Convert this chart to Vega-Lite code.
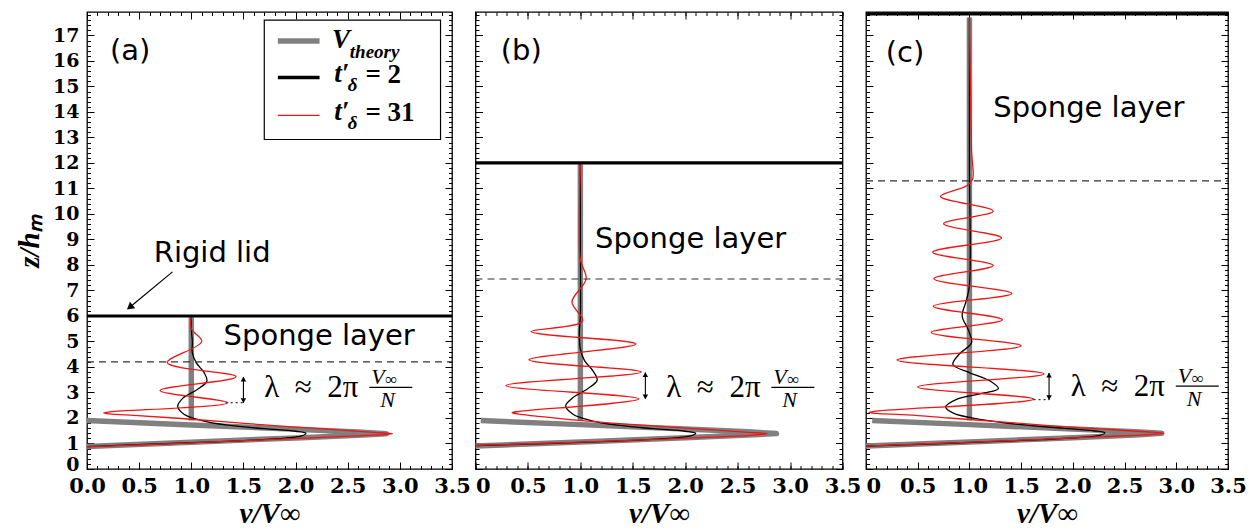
{
  "$schema": "https://vega.github.io/schema/vega-lite/v6.json",
  "background": "white",
  "padding": {"left": 14, "top": 10, "right": 5, "bottom": 0},
  "bounds": "flush",
  "spacing": 23.5,
  "config": {
    "view": {"stroke": "black", "strokeWidth": 1.3},
    "axis": {
      "tickColor": "black", "tickWidth": 1,
      "labelFont": "DejaVu Serif", "labelFontWeight": "bold", "labelFontSize": 21, "labelColor": "black",
      "titleFont": "Liberation Serif", "titleFontWeight": "bold", "titleFontStyle": "italic", "titleFontSize": 29, "titleColor": "black"
    }
  },
  "datasets": {
    "curves": [
      {"p":"a","s":"theory","g":"nose","i":1,"v":0,"z":0.88},
      {"p":"a","s":"theory","g":"nose","i":2,"v":1.0,"z":1.05},
      {"p":"a","s":"theory","g":"nose","i":3,"v":2.0,"z":1.22},
      {"p":"a","s":"theory","g":"nose","i":4,"v":2.6,"z":1.32},
      {"p":"a","s":"theory","g":"nose","i":5,"v":2.87,"z":1.385},
      {"p":"a","s":"theory","g":"nose","i":6,"v":2.6,"z":1.45},
      {"p":"a","s":"theory","g":"nose","i":7,"v":2.0,"z":1.56},
      {"p":"a","s":"theory","g":"nose","i":8,"v":1.0,"z":1.73},
      {"p":"a","s":"theory","g":"nose","i":9,"v":0.0,"z":1.9},
      {"p":"a","s":"theory","g":"bar","i":10,"v":1.0,"z":1.9},
      {"p":"a","s":"theory","g":"bar","i":11,"v":1.0,"z":5.95},
      {"p":"b","s":"theory","g":"nose","i":1,"v":0,"z":0.9},
      {"p":"b","s":"theory","g":"nose","i":2,"v":1.0,"z":1.06},
      {"p":"b","s":"theory","g":"nose","i":3,"v":2.0,"z":1.23},
      {"p":"b","s":"theory","g":"nose","i":4,"v":2.6,"z":1.33},
      {"p":"b","s":"theory","g":"nose","i":5,"v":2.87,"z":1.39},
      {"p":"b","s":"theory","g":"nose","i":6,"v":2.6,"z":1.46},
      {"p":"b","s":"theory","g":"nose","i":7,"v":2.0,"z":1.57},
      {"p":"b","s":"theory","g":"nose","i":8,"v":1.0,"z":1.74},
      {"p":"b","s":"theory","g":"nose","i":9,"v":0.05,"z":1.9},
      {"p":"b","s":"theory","g":"bar","i":10,"v":1.0,"z":1.9},
      {"p":"b","s":"theory","g":"bar","i":11,"v":1.0,"z":11.95},
      {"p":"c","s":"theory","g":"nose","i":1,"v":0,"z":0.9},
      {"p":"c","s":"theory","g":"nose","i":2,"v":1.0,"z":1.06},
      {"p":"c","s":"theory","g":"nose","i":3,"v":2.0,"z":1.23},
      {"p":"c","s":"theory","g":"nose","i":4,"v":2.6,"z":1.33},
      {"p":"c","s":"theory","g":"nose","i":5,"v":2.86,"z":1.4},
      {"p":"c","s":"theory","g":"nose","i":6,"v":2.6,"z":1.46},
      {"p":"c","s":"theory","g":"nose","i":7,"v":2.0,"z":1.57},
      {"p":"c","s":"theory","g":"nose","i":8,"v":1.0,"z":1.74},
      {"p":"c","s":"theory","g":"nose","i":9,"v":0.06,"z":1.9},
      {"p":"c","s":"theory","g":"bar","i":10,"v":1.0,"z":1.9},
      {"p":"c","s":"theory","g":"bar","i":11,"v":1.0,"z":17.7},

      {"p":"a","s":"t2","i":1,"v":0,"z":0.88},
      {"p":"a","s":"t2","i":2,"v":0.6,"z":0.97},
      {"p":"a","s":"t2","i":3,"v":1.2,"z":1.06},
      {"p":"a","s":"t2","i":4,"v":1.6,"z":1.13},
      {"p":"a","s":"t2","i":5,"v":1.9,"z":1.21},
      {"p":"a","s":"t2","i":6,"v":2.06,"z":1.3},
      {"p":"a","s":"t2","i":7,"v":2.1,"z":1.4},
      {"p":"a","s":"t2","i":8,"v":2.0,"z":1.48},
      {"p":"a","s":"t2","i":9,"v":1.7,"z":1.58},
      {"p":"a","s":"t2","i":10,"v":1.35,"z":1.72},
      {"p":"a","s":"t2","i":11,"v":1.1,"z":1.9},
      {"p":"a","s":"t2","i":12,"v":0.93,"z":2.15},
      {"p":"a","s":"t2","i":13,"v":0.87,"z":2.45},
      {"p":"a","s":"t2","i":14,"v":0.92,"z":2.78},
      {"p":"a","s":"t2","i":15,"v":1.05,"z":3.1},
      {"p":"a","s":"t2","i":16,"v":1.15,"z":3.45},
      {"p":"a","s":"t2","i":17,"v":1.12,"z":3.8},
      {"p":"a","s":"t2","i":18,"v":1.05,"z":4.15},
      {"p":"a","s":"t2","i":19,"v":1.01,"z":4.55},
      {"p":"a","s":"t2","i":20,"v":1.01,"z":5.0},
      {"p":"a","s":"t2","i":21,"v":1.0,"z":5.5},
      {"p":"a","s":"t2","i":22,"v":1.0,"z":5.95},

      {"p":"b","s":"t2","i":1,"v":0,"z":0.92},
      {"p":"b","s":"t2","i":2,"v":0.6,"z":0.99},
      {"p":"b","s":"t2","i":3,"v":1.2,"z":1.07},
      {"p":"b","s":"t2","i":4,"v":1.6,"z":1.14},
      {"p":"b","s":"t2","i":5,"v":1.9,"z":1.22},
      {"p":"b","s":"t2","i":6,"v":2.06,"z":1.31},
      {"p":"b","s":"t2","i":7,"v":2.1,"z":1.4},
      {"p":"b","s":"t2","i":8,"v":2.0,"z":1.48},
      {"p":"b","s":"t2","i":9,"v":1.7,"z":1.58},
      {"p":"b","s":"t2","i":10,"v":1.35,"z":1.72},
      {"p":"b","s":"t2","i":11,"v":1.1,"z":1.9},
      {"p":"b","s":"t2","i":12,"v":0.93,"z":2.15},
      {"p":"b","s":"t2","i":13,"v":0.86,"z":2.47},
      {"p":"b","s":"t2","i":14,"v":0.93,"z":2.8},
      {"p":"b","s":"t2","i":15,"v":1.07,"z":3.15},
      {"p":"b","s":"t2","i":16,"v":1.16,"z":3.48},
      {"p":"b","s":"t2","i":17,"v":1.12,"z":3.85},
      {"p":"b","s":"t2","i":18,"v":1.04,"z":4.25},
      {"p":"b","s":"t2","i":19,"v":1.0,"z":4.7},
      {"p":"b","s":"t2","i":20,"v":0.99,"z":5.3},
      {"p":"b","s":"t2","i":21,"v":1.0,"z":6.0},
      {"p":"b","s":"t2","i":22,"v":1.0,"z":9.0},
      {"p":"b","s":"t2","i":23,"v":1.0,"z":11.95},

      {"p":"c","s":"t2","i":1,"v":0,"z":0.9},
      {"p":"c","s":"t2","i":2,"v":0.6,"z":0.98},
      {"p":"c","s":"t2","i":3,"v":1.2,"z":1.07},
      {"p":"c","s":"t2","i":4,"v":1.7,"z":1.15},
      {"p":"c","s":"t2","i":5,"v":2.05,"z":1.23},
      {"p":"c","s":"t2","i":6,"v":2.26,"z":1.32},
      {"p":"c","s":"t2","i":7,"v":2.31,"z":1.42},
      {"p":"c","s":"t2","i":8,"v":2.2,"z":1.5},
      {"p":"c","s":"t2","i":9,"v":1.9,"z":1.6},
      {"p":"c","s":"t2","i":10,"v":1.5,"z":1.74},
      {"p":"c","s":"t2","i":11,"v":1.1,"z":1.95},
      {"p":"c","s":"t2","i":12,"v":0.85,"z":2.18},
      {"p":"c","s":"t2","i":13,"v":0.77,"z":2.43},
      {"p":"c","s":"t2","i":14,"v":0.87,"z":2.72},
      {"p":"c","s":"t2","i":15,"v":1.1,"z":2.95},
      {"p":"c","s":"t2","i":16,"v":1.28,"z":3.15},
      {"p":"c","s":"t2","i":17,"v":1.2,"z":3.45},
      {"p":"c","s":"t2","i":18,"v":1.0,"z":3.78},
      {"p":"c","s":"t2","i":19,"v":0.84,"z":4.1},
      {"p":"c","s":"t2","i":20,"v":0.9,"z":4.5},
      {"p":"c","s":"t2","i":21,"v":1.02,"z":4.95},
      {"p":"c","s":"t2","i":22,"v":0.99,"z":5.45},
      {"p":"c","s":"t2","i":23,"v":0.93,"z":6.0},
      {"p":"c","s":"t2","i":24,"v":0.97,"z":6.6},
      {"p":"c","s":"t2","i":25,"v":1.0,"z":7.2},
      {"p":"c","s":"t2","i":26,"v":1.0,"z":12.0},
      {"p":"c","s":"t2","i":27,"v":1.0,"z":17.7},

      {"p":"a","s":"t31","i":1,"v":0,"z":0.87},
      {"p":"a","s":"t31","i":2,"v":0.6,"z":0.96},
      {"p":"a","s":"t31","i":3,"v":1.2,"z":1.06},
      {"p":"a","s":"t31","i":4,"v":1.8,"z":1.16},
      {"p":"a","s":"t31","i":5,"v":2.3,"z":1.25},
      {"p":"a","s":"t31","i":6,"v":2.7,"z":1.32},
      {"p":"a","s":"t31","i":7,"v":2.93,"z":1.38},
      {"p":"a","s":"t31","i":8,"v":2.75,"z":1.44},
      {"p":"a","s":"t31","i":9,"v":2.3,"z":1.56},
      {"p":"a","s":"t31","i":10,"v":1.8,"z":1.7},
      {"p":"a","s":"t31","i":11,"v":1.3,"z":1.86},
      {"p":"a","s":"t31","i":12,"v":0.8,"z":2.01},
      {"p":"a","s":"t31","i":13,"v":0.45,"z":2.1},
      {"p":"a","s":"t31","i":14,"v":0.22,"z":2.16},
      {"p":"a","s":"t31","i":15,"v":0.16,"z":2.2},
      {"p":"a","s":"t31","i":16,"v":0.22,"z":2.24},
      {"p":"a","s":"t31","i":17,"v":1.35,"z":2.6},
      {"p":"a","s":"t31","i":18,"v":0.7,"z":3.08},
      {"p":"a","s":"t31","i":19,"v":1.43,"z":3.62},
      {"p":"a","s":"t31","i":20,"v":0.77,"z":4.17},
      {"p":"a","s":"t31","i":21,"v":1.1,"z":5.0},
      {"p":"a","s":"t31","i":22,"v":1.0,"z":5.5},
      {"p":"a","s":"t31","i":23,"v":1.0,"z":5.95},

      {"p":"b","s":"t31","i":1,"v":0,"z":0.93},
      {"p":"b","s":"t31","i":2,"v":0.6,"z":1.0},
      {"p":"b","s":"t31","i":3,"v":1.2,"z":1.08},
      {"p":"b","s":"t31","i":4,"v":1.8,"z":1.17},
      {"p":"b","s":"t31","i":5,"v":2.3,"z":1.26},
      {"p":"b","s":"t31","i":6,"v":2.62,"z":1.32},
      {"p":"b","s":"t31","i":7,"v":2.78,"z":1.38},
      {"p":"b","s":"t31","i":8,"v":2.6,"z":1.44},
      {"p":"b","s":"t31","i":9,"v":2.2,"z":1.55},
      {"p":"b","s":"t31","i":10,"v":1.8,"z":1.66},
      {"p":"b","s":"t31","i":11,"v":1.3,"z":1.8},
      {"p":"b","s":"t31","i":12,"v":0.9,"z":1.94},
      {"p":"b","s":"t31","i":13,"v":0.6,"z":2.06},
      {"p":"b","s":"t31","i":14,"v":0.42,"z":2.15},
      {"p":"b","s":"t31","i":15,"v":0.35,"z":2.21},
      {"p":"b","s":"t31","i":16,"v":0.42,"z":2.26},
      {"p":"b","s":"t31","i":17,"v":1.56,"z":2.75},
      {"p":"b","s":"t31","i":18,"v":0.29,"z":3.27},
      {"p":"b","s":"t31","i":19,"v":1.58,"z":3.8},
      {"p":"b","s":"t31","i":20,"v":0.51,"z":4.28},
      {"p":"b","s":"t31","i":21,"v":1.53,"z":4.9},
      {"p":"b","s":"t31","i":22,"v":0.53,"z":5.39},
      {"p":"b","s":"t31","i":23,"v":1.02,"z":5.8},
      {"p":"b","s":"t31","i":24,"v":0.92,"z":6.55},
      {"p":"b","s":"t31","i":25,"v":1.055,"z":7.45},
      {"p":"b","s":"t31","i":26,"v":1.0,"z":8.2},
      {"p":"b","s":"t31","i":27,"v":0.99,"z":9.5},
      {"p":"b","s":"t31","i":28,"v":1.0,"z":11.95},

      {"p":"c","s":"t31","i":1,"v":0,"z":0.9},
      {"p":"c","s":"t31","i":2,"v":0.6,"z":0.99},
      {"p":"c","s":"t31","i":3,"v":1.2,"z":1.08},
      {"p":"c","s":"t31","i":4,"v":1.8,"z":1.18},
      {"p":"c","s":"t31","i":5,"v":2.3,"z":1.27},
      {"p":"c","s":"t31","i":6,"v":2.7,"z":1.34},
      {"p":"c","s":"t31","i":7,"v":2.88,"z":1.4},
      {"p":"c","s":"t31","i":8,"v":2.7,"z":1.46},
      {"p":"c","s":"t31","i":9,"v":2.3,"z":1.56},
      {"p":"c","s":"t31","i":10,"v":1.8,"z":1.69},
      {"p":"c","s":"t31","i":11,"v":1.3,"z":1.85},
      {"p":"c","s":"t31","i":12,"v":0.8,"z":2.0},
      {"p":"c","s":"t31","i":13,"v":0.4,"z":2.12},
      {"p":"c","s":"t31","i":14,"v":0.1,"z":2.18},
      {"p":"c","s":"t31","i":15,"v":0.03,"z":2.22},
      {"p":"c","s":"t31","i":16,"v":0.1,"z":2.27},
      {"p":"c","s":"t31","i":17,"v":1.62,"z":2.74},
      {"p":"c","s":"t31","i":18,"v":0.5,"z":3.22},
      {"p":"c","s":"t31","i":19,"v":1.72,"z":3.73},
      {"p":"c","s":"t31","i":20,"v":0.3,"z":4.27},
      {"p":"c","s":"t31","i":21,"v":1.5,"z":4.83},
      {"p":"c","s":"t31","i":22,"v":0.63,"z":5.35},
      {"p":"c","s":"t31","i":23,"v":1.32,"z":5.85},
      {"p":"c","s":"t31","i":24,"v":0.65,"z":6.38},
      {"p":"c","s":"t31","i":25,"v":1.41,"z":6.88},
      {"p":"c","s":"t31","i":26,"v":0.655,"z":7.46},
      {"p":"c","s":"t31","i":27,"v":1.23,"z":7.98},
      {"p":"c","s":"t31","i":28,"v":0.645,"z":8.5},
      {"p":"c","s":"t31","i":29,"v":1.31,"z":9.06},
      {"p":"c","s":"t31","i":30,"v":0.75,"z":9.62},
      {"p":"c","s":"t31","i":31,"v":1.23,"z":10.11},
      {"p":"c","s":"t31","i":32,"v":0.72,"z":10.69},
      {"p":"c","s":"t31","i":33,"v":0.97,"z":11.1},
      {"p":"c","s":"t31","i":34,"v":1.03,"z":11.35},
      {"p":"c","s":"t31","i":35,"v":1.02,"z":12.5},
      {"p":"c","s":"t31","i":36,"v":1.0,"z":17.7}
    ],
    "levels": [
      {"p":"a","k":"lid","v":0,"v2":3.5,"z":6},
      {"p":"a","k":"sponge","v":0,"v2":3.5,"z":4.2},
      {"p":"b","k":"lid","v":0,"v2":3.5,"z":12},
      {"p":"b","k":"sponge","v":0,"v2":3.5,"z":7.45},
      {"p":"c","k":"lid","v":0,"v2":3.5,"z":17.85},
      {"p":"c","k":"sponge","v":0,"v2":3.5,"z":11.3}
    ],
    "arrows": [
      {"p":"a","v":1.5,"z":2.6,"z2":3.6,"v0":1.33},
      {"p":"b","v":1.62,"z":2.75,"z2":3.78,"v0":1.62},
      {"p":"c","v":1.77,"z":2.72,"z2":3.76,"v0":1.62}
    ],
    "notes": [
      {"p":"a","k":"tag","t":"(a)","v":0.22,"z":16.05},
      {"p":"b","k":"tag","t":"(b)","v":0.24,"z":16.05},
      {"p":"c","k":"tag","t":"(c)","v":0.19,"z":15.95},
      {"p":"a","k":"sponge","t":"Sponge layer","v":1.31,"z":4.87},
      {"p":"b","k":"sponge","t":"Sponge layer","v":1.14,"z":8.66},
      {"p":"c","k":"sponge","t":"Sponge layer","v":1.23,"z":13.81},
      {"p":"a","k":"rigid","t":"Rigid lid","v":0.64,"z":8.12},
      {"p":"a","k":"lam","t":"λ\u2002≈\u20022π","v":1.7,"z":3.2},
      {"p":"b","k":"lam","t":"λ\u2002≈\u20022π","v":1.82,"z":3.2},
      {"p":"c","k":"lam","t":"λ\u2002≈\u20022π","v":1.98,"z":3.25}
    ],
    "pointer": [
      {"v":0.82,"z":7.73,"v2":0.41,"z2":6.34}
    ],
    "legendBox": [
      {"v":1.7,"v2":3.39,"z":12.92,"z2":17.6}
    ],
    "legendSym": [
      {"s":"theory","v":1.83,"v2":2.23,"z":16.78},
      {"s":"t2","v":1.83,"v2":2.23,"z":15.35},
      {"s":"t31","v":1.83,"v2":2.23,"z":13.87}
    ],
    "legendTxt": [
      {"k":"main","t":"V","v":2.35,"z":16.84},
      {"k":"main","t":"t′","v":2.37,"z":15.49},
      {"k":"main","t":"t′","v":2.37,"z":14.0},
      {"k":"sub","t":"theory","v":2.52,"z":16.36},
      {"k":"sub","t":"δ","v":2.5,"z":15.05},
      {"k":"sub","t":"δ","v":2.5,"z":13.57},
      {"k":"eq","t":"= 2","v":2.67,"z":15.45},
      {"k":"eq","t":"= 31","v":2.67,"z":13.96}
    ]
  },
  "hconcat": [
    {
      "width": 365, "height": 457,
      "encoding": {
        "x": {"field":"v","type":"quantitative","scale":{"domain":[0,3.5],"nice":false,"zero":false},"axis":null},
        "y": {"field":"z","type":"quantitative","scale":{"domain":[0,17.92],"nice":false,"zero":false},"axis":null}
      },
      "layer": [
        {"data":{"name":"curves"},"transform":[{"filter":"datum.p==='a' && datum.s==='theory'"}],
         "mark":{"type":"line","color":"#808080","strokeWidth":5.5,"strokeJoin":"round"},
         "encoding":{
           "x":{"field":"v","type":"quantitative","scale":{"domain":[0,3.5],"nice":false,"zero":false},
                "axis":{"orient":"bottom","values":[0,0.5,1,1.5,2,2.5,3,3.5],"format":".1f","tickSize":-7,"labelPadding":13,"labelFlush":false,"labelOverlap":false,"domain":false,"grid":false,"title":"v/V∞","titlePadding":3}},
           "y":{"field":"z","type":"quantitative","scale":{"domain":[0,17.92],"nice":false,"zero":false},
                "axis":{"orient":"left","values":[0,1,2,3,4,5,6,7,8,9,10,11,12,13,14,15,16,17],"format":"d","tickSize":-7,"labelPadding":15,"labelFontSize":19,"labelOffset":{"condition":{"test":"datum.value === 0","value":-5},"value":0},"labelFlush":false,"labelOverlap":false,"domain":false,"grid":false,"title":"z/hₘ","titlePadding":8}},
           "detail":{"field":"g"},
           "order":{"field":"i","type":"quantitative"}
         }},
        {"data":{"name":"curves"},"transform":[{"filter":"datum.p==='a' && datum.s==='t2'"}],
         "mark":{"type":"line","color":"black","strokeWidth":1.3,"interpolate":"catmull-rom"},
         "encoding":{
           "x":{"field":"v","type":"quantitative","scale":{"domain":[0,3.5],"nice":false,"zero":false},
                "axis":{"orient":"top","values":[0,0.5,1,1.5,2,2.5,3,3.5],"tickSize":-7,"labels":false,"domain":false,"grid":false,"title":null}},
           "y":{"field":"z","type":"quantitative","scale":{"domain":[0,17.92],"nice":false,"zero":false},
                "axis":{"orient":"right","values":[0,1,2,3,4,5,6,7,8,9,10,11,12,13,14,15,16,17],"tickSize":-7,"labels":false,"domain":false,"grid":false,"title":null}},
           "order":{"field":"i","type":"quantitative"}
         }},
        {"data":{"name":"curves"},"transform":[{"filter":"datum.p==='a' && datum.s==='t31'"}],
         "mark":{"type":"line","color":"#f01515","strokeWidth":1.3,"interpolate":"catmull-rom"},
         "encoding":{
           "x":{"field":"v","type":"quantitative","scale":{"domain":[0,3.5],"nice":false,"zero":false},
                "axis":{"orient":"bottom","tickCount":35,"tickSize":-3.5,"labels":false,"domain":false,"grid":false,"title":null}},
           "y":{"field":"z","type":"quantitative","scale":{"domain":[0,17.92],"nice":false,"zero":false},
                "axis":{"orient":"left","tickCount":90,"tickSize":-3.5,"labels":false,"domain":false,"grid":false,"title":null}},
           "order":{"field":"i","type":"quantitative"}
         }},
        {"data":{"name":"levels"},"transform":[{"filter":"datum.p==='a' && datum.k==='lid'"}],
         "mark":{"type":"rule","color":"black","strokeWidth":3.2},
         "encoding":{
           "x":{"field":"v","type":"quantitative","scale":{"domain":[0,3.5],"nice":false,"zero":false},
                "axis":{"orient":"top","tickCount":35,"tickSize":-3.5,"labels":false,"domain":false,"grid":false,"title":null}},
           "x2":{"field":"v2"},
           "y":{"field":"z","type":"quantitative","scale":{"domain":[0,17.92],"nice":false,"zero":false},
                "axis":{"orient":"right","tickCount":90,"tickSize":-3.5,"labels":false,"domain":false,"grid":false,"title":null}}
         }},
        {"data":{"name":"levels"},"transform":[{"filter":"datum.p==='a' && datum.k==='sponge'"}],
         "mark":{"type":"rule","color":"#333333","strokeWidth":1.2,"strokeDash":[7,5]},
         "encoding":{"x2":{"field":"v2"}}},
        {"data":{"name":"arrows"},"transform":[{"filter":"datum.p==='a'"}],
         "mark":{"type":"rule","color":"#333333","strokeWidth":1.2,"strokeDash":[2,3]},
         "encoding":{"x":{"field":"v0","type":"quantitative","axis":null},"x2":{"field":"v"}}},
        {"data":{"name":"arrows"},"transform":[{"filter":"datum.p==='a'"}],
         "mark":{"type":"rule","color":"black","strokeWidth":1.1},
         "encoding":{"y2":{"field":"z2"}}},
        {"data":{"name":"arrows"},"transform":[{"filter":"datum.p==='a'"}],
         "mark":{"type":"point","shape":"triangle-up","filled":true,"color":"black","size":30,"opacity":1,"yOffset":2},
         "encoding":{"y":{"field":"z2","type":"quantitative","axis":null}}},
        {"data":{"name":"arrows"},"transform":[{"filter":"datum.p==='a'"}],
         "mark":{"type":"point","shape":"triangle-down","filled":true,"color":"black","size":30,"opacity":1,"yOffset":-2}},
        {"data":{"name":"notes"},"transform":[{"filter":"datum.p==='a' && datum.k!=='lam'"}],
         "mark":{"type":"text","font":"DejaVu Sans","fontSize":29,"align":"left","baseline":"alphabetic","color":"black"},
         "encoding":{"text":{"field":"t"}}},
        {"data":{"name":"notes"},"transform":[{"filter":"datum.p==='a' && datum.k==='lam'"}],
         "mark":{"type":"text","font":"Liberation Serif","fontSize":31,"align":"left","baseline":"alphabetic","dy":10,"color":"black"},
         "encoding":{"text":{"field":"t"}}},
        {"data":{"name":"notes"},"transform":[{"filter":"datum.p==='a' && datum.k==='lam'"}],
         "mark":{"type":"text","font":"Liberation Serif","fontStyle":"italic","fontSize":22,"align":"left","baseline":"alphabetic","dx":107,"dy":-3,"color":"black"},
         "encoding":{"text":{"value":"V"}}},
        {"data":{"name":"notes"},"transform":[{"filter":"datum.p==='a' && datum.k==='lam'"}],
         "mark":{"type":"text","font":"Liberation Serif","fontSize":17,"align":"left","baseline":"alphabetic","dx":121,"dy":-2,"color":"black"},
         "encoding":{"text":{"value":"∞"}}},
        {"data":{"name":"notes"},"transform":[{"filter":"datum.p==='a' && datum.k==='lam'"}],
         "mark":{"type":"text","font":"Liberation Serif","fontStyle":"italic","fontSize":22,"align":"left","baseline":"alphabetic","dx":116,"dy":20,"color":"black"},
         "encoding":{"text":{"value":"N"}}},
        {"data":{"name":"notes"},"transform":[{"filter":"datum.p==='a' && datum.k==='lam'"}],
         "mark":{"type":"rule","color":"black","strokeWidth":1.2,"xOffset":105,"x2Offset":148},
         "encoding":{"x2":{"field":"v"},"y2":{"field":"z"}}},
        {"data":{"name":"pointer"},
         "mark":{"type":"rule","color":"black","strokeWidth":1.2},
         "encoding":{"x2":{"field":"v2"},"y2":{"field":"z2"}}},
        {"data":{"name":"pointer"},
         "mark":{"type":"point","shape":"triangle-up","filled":true,"color":"black","size":70,"opacity":1,"angle":231},
         "encoding":{"x":{"field":"v2","type":"quantitative","axis":null},"y":{"field":"z2","type":"quantitative","axis":null}}},
        {"data":{"name":"legendBox"},
         "mark":{"type":"rect","fill":"white","stroke":"black","strokeWidth":1.2},
         "encoding":{"x2":{"field":"v2"},"y2":{"field":"z2"}}},
        {"data":{"name":"legendSym"},
         "mark":{"type":"rule"},
         "encoding":{
           "x2":{"field":"v2"},
           "color":{"field":"s","type":"nominal","scale":{"domain":["theory","t2","t31"],"range":["#808080","black","#f01515"]},"legend":null},
           "strokeWidth":{"field":"s","type":"nominal","scale":{"domain":["theory","t2","t31"],"range":[5.5,1.3,1.3]},"legend":null}
         }},
        {"data":{"name":"legendTxt"},"transform":[{"filter":"datum.k==='main'"}],
         "mark":{"type":"text","font":"Liberation Serif","fontStyle":"italic","fontWeight":"bold","fontSize":27,"align":"left","baseline":"middle","color":"black"},
         "encoding":{"text":{"field":"t"}}},
        {"data":{"name":"legendTxt"},"transform":[{"filter":"datum.k==='sub'"}],
         "mark":{"type":"text","font":"Liberation Serif","fontStyle":"italic","fontWeight":"bold","fontSize":19,"align":"left","baseline":"middle","color":"black"},
         "encoding":{"text":{"field":"t"}}},
        {"data":{"name":"legendTxt"},"transform":[{"filter":"datum.k==='eq'"}],
         "mark":{"type":"text","font":"Liberation Serif","fontWeight":"bold","fontSize":27,"align":"left","baseline":"middle","color":"black"},
         "encoding":{"text":{"field":"t"}}}
      ],
      "resolve": {"axis": {"x": "independent", "y": "independent"}}
    },
    {
      "width": 367, "height": 457,
      "encoding": {
        "x": {"field":"v","type":"quantitative","scale":{"domain":[0,3.5],"nice":false,"zero":false},"axis":null},
        "y": {"field":"z","type":"quantitative","scale":{"domain":[0,17.92],"nice":false,"zero":false},"axis":null}
      },
      "layer": [
        {"data":{"name":"curves"},"transform":[{"filter":"datum.p==='b' && datum.s==='theory'"}],
         "mark":{"type":"line","color":"#808080","strokeWidth":5.5,"strokeJoin":"round"},
         "encoding":{
           "x":{"field":"v","type":"quantitative","scale":{"domain":[0,3.5],"nice":false,"zero":false},
                "axis":{"orient":"bottom","values":[0,0.5,1,1.5,2,2.5,3,3.5],"format":".1f","labelExpr":"datum.value === 0 ? '0' : datum.label","labelAlign":{"condition":{"test":"datum.value === 0","value":"left"},"value":"center"},"tickSize":-7,"labelPadding":13,"labelFlush":false,"labelOverlap":false,"domain":false,"grid":false,"title":"v/V∞","titlePadding":3}},
           "y":{"field":"z","type":"quantitative","scale":{"domain":[0,17.92],"nice":false,"zero":false},
                "axis":{"orient":"left","values":[0,1,2,3,4,5,6,7,8,9,10,11,12,13,14,15,16,17],"tickSize":-7,"labels":false,"domain":false,"grid":false,"title":null}},
           "detail":{"field":"g"},
           "order":{"field":"i","type":"quantitative"}
         }},
        {"data":{"name":"curves"},"transform":[{"filter":"datum.p==='b' && datum.s==='t2'"}],
         "mark":{"type":"line","color":"black","strokeWidth":1.3,"interpolate":"catmull-rom"},
         "encoding":{
           "x":{"field":"v","type":"quantitative","scale":{"domain":[0,3.5],"nice":false,"zero":false},
                "axis":{"orient":"top","values":[0,0.5,1,1.5,2,2.5,3,3.5],"tickSize":-7,"labels":false,"domain":false,"grid":false,"title":null}},
           "y":{"field":"z","type":"quantitative","scale":{"domain":[0,17.92],"nice":false,"zero":false},
                "axis":{"orient":"right","values":[0,1,2,3,4,5,6,7,8,9,10,11,12,13,14,15,16,17],"tickSize":-7,"labels":false,"domain":false,"grid":false,"title":null}},
           "order":{"field":"i","type":"quantitative"}
         }},
        {"data":{"name":"curves"},"transform":[{"filter":"datum.p==='b' && datum.s==='t31'"}],
         "mark":{"type":"line","color":"#f01515","strokeWidth":1.3,"interpolate":"catmull-rom"},
         "encoding":{
           "x":{"field":"v","type":"quantitative","scale":{"domain":[0,3.5],"nice":false,"zero":false},
                "axis":{"orient":"bottom","tickCount":35,"tickSize":-3.5,"labels":false,"domain":false,"grid":false,"title":null}},
           "y":{"field":"z","type":"quantitative","scale":{"domain":[0,17.92],"nice":false,"zero":false},
                "axis":{"orient":"left","tickCount":90,"tickSize":-3.5,"labels":false,"domain":false,"grid":false,"title":null}},
           "order":{"field":"i","type":"quantitative"}
         }},
        {"data":{"name":"levels"},"transform":[{"filter":"datum.p==='b' && datum.k==='lid'"}],
         "mark":{"type":"rule","color":"black","strokeWidth":3.2},
         "encoding":{
           "x":{"field":"v","type":"quantitative","scale":{"domain":[0,3.5],"nice":false,"zero":false},
                "axis":{"orient":"top","tickCount":35,"tickSize":-3.5,"labels":false,"domain":false,"grid":false,"title":null}},
           "x2":{"field":"v2"},
           "y":{"field":"z","type":"quantitative","scale":{"domain":[0,17.92],"nice":false,"zero":false},
                "axis":{"orient":"right","tickCount":90,"tickSize":-3.5,"labels":false,"domain":false,"grid":false,"title":null}}
         }},
        {"data":{"name":"levels"},"transform":[{"filter":"datum.p==='b' && datum.k==='sponge'"}],
         "mark":{"type":"rule","color":"#333333","strokeWidth":1.2,"strokeDash":[7,5]},
         "encoding":{"x2":{"field":"v2"}}},
        {"data":{"name":"arrows"},"transform":[{"filter":"datum.p==='b'"}],
         "mark":{"type":"rule","color":"black","strokeWidth":1.1},
         "encoding":{"y2":{"field":"z2"}}},
        {"data":{"name":"arrows"},"transform":[{"filter":"datum.p==='b'"}],
         "mark":{"type":"point","shape":"triangle-up","filled":true,"color":"black","size":30,"opacity":1,"yOffset":2},
         "encoding":{"y":{"field":"z2","type":"quantitative","axis":null}}},
        {"data":{"name":"arrows"},"transform":[{"filter":"datum.p==='b'"}],
         "mark":{"type":"point","shape":"triangle-down","filled":true,"color":"black","size":30,"opacity":1,"yOffset":-2}},
        {"data":{"name":"notes"},"transform":[{"filter":"datum.p==='b' && datum.k!=='lam'"}],
         "mark":{"type":"text","font":"DejaVu Sans","fontSize":29,"align":"left","baseline":"alphabetic","color":"black"},
         "encoding":{"text":{"field":"t"}}},
        {"data":{"name":"notes"},"transform":[{"filter":"datum.p==='b' && datum.k==='lam'"}],
         "mark":{"type":"text","font":"Liberation Serif","fontSize":31,"align":"left","baseline":"alphabetic","dy":10,"color":"black"},
         "encoding":{"text":{"field":"t"}}},
        {"data":{"name":"notes"},"transform":[{"filter":"datum.p==='b' && datum.k==='lam'"}],
         "mark":{"type":"text","font":"Liberation Serif","fontStyle":"italic","fontSize":22,"align":"left","baseline":"alphabetic","dx":107,"dy":-3,"color":"black"},
         "encoding":{"text":{"value":"V"}}},
        {"data":{"name":"notes"},"transform":[{"filter":"datum.p==='b' && datum.k==='lam'"}],
         "mark":{"type":"text","font":"Liberation Serif","fontSize":17,"align":"left","baseline":"alphabetic","dx":121,"dy":-2,"color":"black"},
         "encoding":{"text":{"value":"∞"}}},
        {"data":{"name":"notes"},"transform":[{"filter":"datum.p==='b' && datum.k==='lam'"}],
         "mark":{"type":"text","font":"Liberation Serif","fontStyle":"italic","fontSize":22,"align":"left","baseline":"alphabetic","dx":116,"dy":20,"color":"black"},
         "encoding":{"text":{"value":"N"}}},
        {"data":{"name":"notes"},"transform":[{"filter":"datum.p==='b' && datum.k==='lam'"}],
         "mark":{"type":"rule","color":"black","strokeWidth":1.2,"xOffset":105,"x2Offset":148},
         "encoding":{"x2":{"field":"v"},"y2":{"field":"z"}}}
      ],
      "resolve": {"axis": {"x": "independent", "y": "independent"}}
    },
    {
      "width": 362, "height": 457,
      "encoding": {
        "x": {"field":"v","type":"quantitative","scale":{"domain":[0,3.5],"nice":false,"zero":false},"axis":null},
        "y": {"field":"z","type":"quantitative","scale":{"domain":[0,17.92],"nice":false,"zero":false},"axis":null}
      },
      "layer": [
        {"data":{"name":"curves"},"transform":[{"filter":"datum.p==='c' && datum.s==='theory'"}],
         "mark":{"type":"line","color":"#808080","strokeWidth":5.5,"strokeJoin":"round"},
         "encoding":{
           "x":{"field":"v","type":"quantitative","scale":{"domain":[0,3.5],"nice":false,"zero":false},
                "axis":{"orient":"bottom","values":[0,0.5,1,1.5,2,2.5,3,3.5],"format":".1f","labelExpr":"datum.value === 0 ? '0' : datum.label","labelAlign":{"condition":{"test":"datum.value === 0","value":"left"},"value":"center"},"tickSize":-7,"labelPadding":13,"labelFlush":false,"labelOverlap":false,"domain":false,"grid":false,"title":"v/V∞","titlePadding":3}},
           "y":{"field":"z","type":"quantitative","scale":{"domain":[0,17.92],"nice":false,"zero":false},
                "axis":{"orient":"left","values":[0,1,2,3,4,5,6,7,8,9,10,11,12,13,14,15,16,17],"tickSize":-7,"labels":false,"domain":false,"grid":false,"title":null}},
           "detail":{"field":"g"},
           "order":{"field":"i","type":"quantitative"}
         }},
        {"data":{"name":"curves"},"transform":[{"filter":"datum.p==='c' && datum.s==='t2'"}],
         "mark":{"type":"line","color":"black","strokeWidth":1.3,"interpolate":"catmull-rom"},
         "encoding":{
           "x":{"field":"v","type":"quantitative","scale":{"domain":[0,3.5],"nice":false,"zero":false},
                "axis":{"orient":"top","values":[0,0.5,1,1.5,2,2.5,3,3.5],"tickSize":-7,"labels":false,"domain":false,"grid":false,"title":null}},
           "y":{"field":"z","type":"quantitative","scale":{"domain":[0,17.92],"nice":false,"zero":false},
                "axis":{"orient":"right","values":[0,1,2,3,4,5,6,7,8,9,10,11,12,13,14,15,16,17],"tickSize":-7,"labels":false,"domain":false,"grid":false,"title":null}},
           "order":{"field":"i","type":"quantitative"}
         }},
        {"data":{"name":"curves"},"transform":[{"filter":"datum.p==='c' && datum.s==='t31'"}],
         "mark":{"type":"line","color":"#f01515","strokeWidth":1.3,"interpolate":"catmull-rom"},
         "encoding":{
           "x":{"field":"v","type":"quantitative","scale":{"domain":[0,3.5],"nice":false,"zero":false},
                "axis":{"orient":"bottom","tickCount":35,"tickSize":-3.5,"labels":false,"domain":false,"grid":false,"title":null}},
           "y":{"field":"z","type":"quantitative","scale":{"domain":[0,17.92],"nice":false,"zero":false},
                "axis":{"orient":"left","tickCount":90,"tickSize":-3.5,"labels":false,"domain":false,"grid":false,"title":null}},
           "order":{"field":"i","type":"quantitative"}
         }},
        {"data":{"name":"levels"},"transform":[{"filter":"datum.p==='c' && datum.k==='lid'"}],
         "mark":{"type":"rule","color":"black","strokeWidth":3.2},
         "encoding":{
           "x":{"field":"v","type":"quantitative","scale":{"domain":[0,3.5],"nice":false,"zero":false},
                "axis":{"orient":"top","tickCount":35,"tickSize":-3.5,"labels":false,"domain":false,"grid":false,"title":null}},
           "x2":{"field":"v2"},
           "y":{"field":"z","type":"quantitative","scale":{"domain":[0,17.92],"nice":false,"zero":false},
                "axis":{"orient":"right","tickCount":90,"tickSize":-3.5,"labels":false,"domain":false,"grid":false,"title":null}}
         }},
        {"data":{"name":"levels"},"transform":[{"filter":"datum.p==='c' && datum.k==='sponge'"}],
         "mark":{"type":"rule","color":"#333333","strokeWidth":1.2,"strokeDash":[7,5]},
         "encoding":{"x2":{"field":"v2"}}},
        {"data":{"name":"arrows"},"transform":[{"filter":"datum.p==='c'"}],
         "mark":{"type":"rule","color":"#333333","strokeWidth":1.2,"strokeDash":[2,3]},
         "encoding":{"x":{"field":"v0","type":"quantitative","axis":null},"x2":{"field":"v"}}},
        {"data":{"name":"arrows"},"transform":[{"filter":"datum.p==='c'"}],
         "mark":{"type":"rule","color":"black","strokeWidth":1.1},
         "encoding":{"y2":{"field":"z2"}}},
        {"data":{"name":"arrows"},"transform":[{"filter":"datum.p==='c'"}],
         "mark":{"type":"point","shape":"triangle-up","filled":true,"color":"black","size":30,"opacity":1,"yOffset":2},
         "encoding":{"y":{"field":"z2","type":"quantitative","axis":null}}},
        {"data":{"name":"arrows"},"transform":[{"filter":"datum.p==='c'"}],
         "mark":{"type":"point","shape":"triangle-down","filled":true,"color":"black","size":30,"opacity":1,"yOffset":-2}},
        {"data":{"name":"notes"},"transform":[{"filter":"datum.p==='c' && datum.k!=='lam'"}],
         "mark":{"type":"text","font":"DejaVu Sans","fontSize":29,"align":"left","baseline":"alphabetic","color":"black"},
         "encoding":{"text":{"field":"t"}}},
        {"data":{"name":"notes"},"transform":[{"filter":"datum.p==='c' && datum.k==='lam'"}],
         "mark":{"type":"text","font":"Liberation Serif","fontSize":31,"align":"left","baseline":"alphabetic","dy":10,"color":"black"},
         "encoding":{"text":{"field":"t"}}},
        {"data":{"name":"notes"},"transform":[{"filter":"datum.p==='c' && datum.k==='lam'"}],
         "mark":{"type":"text","font":"Liberation Serif","fontStyle":"italic","fontSize":22,"align":"left","baseline":"alphabetic","dx":107,"dy":-3,"color":"black"},
         "encoding":{"text":{"value":"V"}}},
        {"data":{"name":"notes"},"transform":[{"filter":"datum.p==='c' && datum.k==='lam'"}],
         "mark":{"type":"text","font":"Liberation Serif","fontSize":17,"align":"left","baseline":"alphabetic","dx":121,"dy":-2,"color":"black"},
         "encoding":{"text":{"value":"∞"}}},
        {"data":{"name":"notes"},"transform":[{"filter":"datum.p==='c' && datum.k==='lam'"}],
         "mark":{"type":"text","font":"Liberation Serif","fontStyle":"italic","fontSize":22,"align":"left","baseline":"alphabetic","dx":116,"dy":20,"color":"black"},
         "encoding":{"text":{"value":"N"}}},
        {"data":{"name":"notes"},"transform":[{"filter":"datum.p==='c' && datum.k==='lam'"}],
         "mark":{"type":"rule","color":"black","strokeWidth":1.2,"xOffset":105,"x2Offset":148},
         "encoding":{"x2":{"field":"v"},"y2":{"field":"z"}}}
      ],
      "resolve": {"axis": {"x": "independent", "y": "independent"}}
    }
  ]
}
